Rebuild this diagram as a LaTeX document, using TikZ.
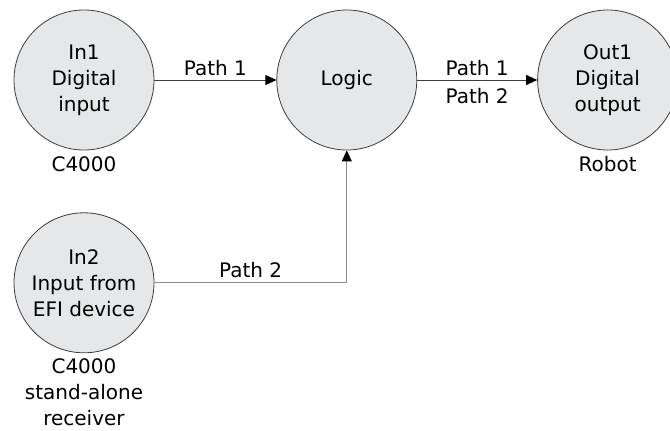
\documentclass[tikz,border=0pt]{standalone}
\usepackage{fontspec}
\setmainfont{DejaVu Sans}
\usetikzlibrary{arrows.meta, positioning}
\definecolor{circfill}{RGB}{230,231,232}
\definecolor{edge}{RGB}{60,60,60}
\definecolor{wire}{RGB}{140,140,140}

\begin{document}
\begin{tikzpicture}[
    node distance=6pt,
    io/.style={draw=edge, circle, line width=0.8pt, fill=circfill, minimum size=140pt, inner sep=0pt, align=center, font=\fontsize{20}{26}\selectfont},
    note/.style={inner sep=0pt, align=center, text=black, font=\fontsize{20}{26}\selectfont},
    >={Triangle[length=11pt, width=10pt, color=black]}]
  \useasboundingbox (-84pt,80pt) rectangle (586pt,-351pt);
  \node[io] (In1) {In1\\Digital\\input};
  \node[io, right=122pt of In1] (L) {Logic};
  \node[io, right=120pt of L] (Out) {Out1\\Digital\\output};
  \node[io, below=62pt of In1] (In2) {In2\\Input from\\EFI device};
  \node[note, below=of In1] (C1) {C4000};
  \node[note, below=of Out] (Rb) {Robot};
  \node[note, below=5pt of In2] (C2) {C4000\\stand-alone\\receiver};
  \draw[->, line width=0.8pt, edge] (In1) -- node[note, above=4pt]{Path 1} (L);
  \draw[->, line width=0.8pt, edge] (L) -- node[note, above=4pt]{Path 1}
    node[note, below=8pt]{Path 2} (Out);
  \draw[->, line width=1pt, wire] (In2) -| node[note, above=5pt, pos=0.25]{Path 2} (L);
\end{tikzpicture}
\end{document}
